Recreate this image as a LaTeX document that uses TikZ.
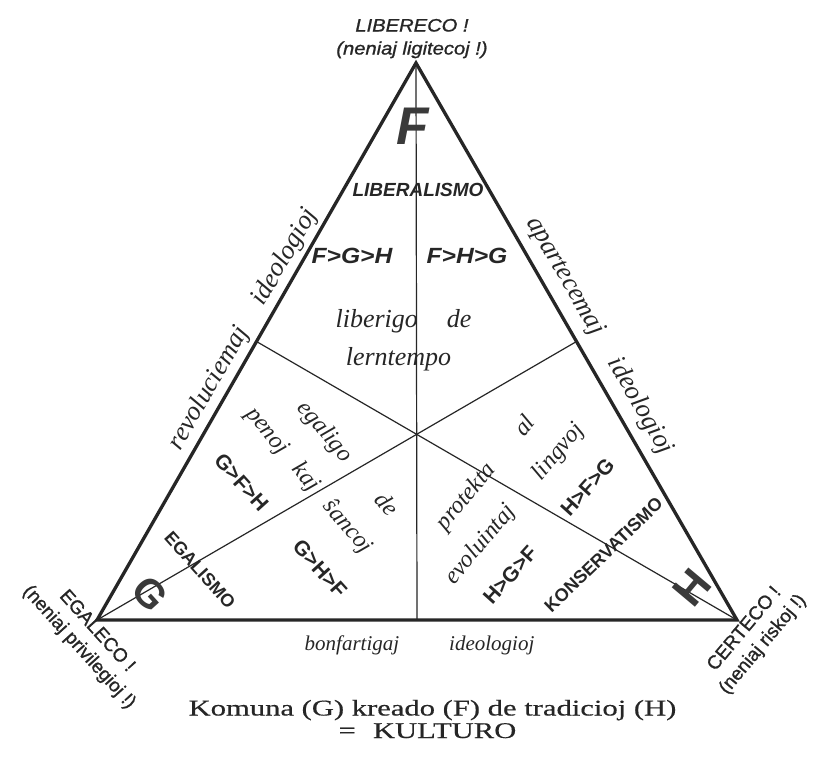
\documentclass[tikz,border=0pt]{standalone}
\usepackage{fontspec}
\setmainfont{Liberation Serif}
\newfontfamily\sff{Liberation Sans}
\newfontfamily\sffb[FakeBold=1]{Liberation Sans}
\newfontfamily\sfw[FakeStretch=1.12]{Liberation Sans}
\newfontfamily\sfwb[FakeStretch=1.12,FakeBold=1]{Liberation Sans}
\newfontfamily\capf[FakeStretch=1.36,FakeBold=0.4]{Liberation Serif}
\usetikzlibrary{calc}
\definecolor{ink}{HTML}{262626}
\definecolor{bigink}{HTML}{3a3a3a}
\newcommand{\fs}[1]{\fontsize{#1}{#1}\selectfont}
\begin{document}
\begin{tikzpicture}[x=1pt,y=-1pt,
  tri/.style={draw=ink, line width=3.3pt, line join=miter},
  med/.style={draw=ink, line width=1.2pt},
  lbl/.style={text=ink, inner sep=0pt, outer sep=0pt},
  vlab/.style={lbl, font=\sfwb\itshape\fs{18}, anchor=base},
  ism/.style={lbl, font=\sff\bfseries\fs{18}},
  ord/.style={lbl, font=\sff\bfseries\fs{21}},
  ordit/.style={lbl, font=\sfw\bfseries\itshape\fs{22}, anchor=base},
  note/.style={lbl, font=\itshape\fs{24}},
  sidetext/.style={lbl, font=\itshape\fs{26.5}, anchor=base},
  cornertext/.style={lbl, font=\sffb\fontsize{19}{24}\selectfont, align=center},
  big/.style={lbl, text=bigink, font=\sff\bfseries},
]
\fill[white] (0,0) rectangle (814,758);
\useasboundingbox (0,0) rectangle (814,758);

% vertices and midpoints
\coordinate (A) at (416,63);
\coordinate (B) at (97,620);
\coordinate (C) at (737,620);
\coordinate (mBC) at ($(B)!0.5!(C)$);
\coordinate (mAC) at ($(A)!0.5!(C)$);
\coordinate (mAB) at ($(A)!0.5!(B)$);

% medians
\draw[med] (A) -- (mBC);
\draw[med] (B) -- (mAC);
\draw[med] (C) -- (mAB);
% triangle
\draw[tri] (A) -- (B) -- (C) -- cycle;

% top vertex
\node[vlab] (lib1) at (412,31.5) {LIBERECO !};
\node[vlab] (lib2) at (412,54.5) {(neniaj ligitecoj !)};
\node[big, font=\sff\bfseries\itshape\fs{53}] (F) at (413,126) {F};
\node[lbl, font=\sff\bfseries\itshape\fs{19}, anchor=base] (liberalismo) at (418,196) {LIBERALISMO};
\node[ordit] (fgh) at (352,263) {F>G>H};
\node[ordit] (fhg) at (467,263) {F>H>G};
\node[lbl, font=\itshape\fs{26}, anchor=base] (liberigo) at (403.5,327) {liberigo\hspace{29pt}de};
\node[lbl, font=\itshape\fs{26}, anchor=base] (lerntempo) at (398.5,365) {lerntempo};

% sides
\node[sidetext, rotate=60] (revol) at (249,332.5) {revoluciemaj\hspace{29pt}ideologioj};
\node[sidetext, rotate=-60] (apart) at (594,339) {apartecemaj\hspace{30pt}ideologioj};
\node[lbl, font=\itshape\fs{21}, anchor=base] (bonf) at (419.5,650) {bonfartigaj\hspace{50pt}ideologioj};

% G region
\node[note, rotate=-50] (egal) at (347,459) {egaligo\hspace{48pt}de};
\node[note, rotate=-50] (penoj) at (308.7,481) {penoj\hspace{19pt}kaj\hspace{19pt}ŝancoj};
\node[ord, rotate=-48] (gfh) at (241.5,482.5) {G>F>H};
\node[ord, rotate=-48] (ghf) at (320,568.5) {G>H>F};
\node[ism, rotate=-48] (egalismo) at (200,570) {EGALISMO};
\node[big, font=\sff\bfseries\fs{40}, rotate=-48] (G) at (150,594) {G};

% H region
\node[note, rotate=50] (prot) at (486.4,473.5) {protekta\hspace{43pt}al};
\node[note, rotate=50] (evol) at (515,504) {evoluintaj\hspace{40pt}lingvoj};
\node[ord, rotate=48] (hgf) at (510,575) {H>G>F};
\node[ord, rotate=48] (hfg) at (587.5,487) {H>F>G};
\node[ism, rotate=44] (kons) at (603.5,555) {KONSERVATISMO};
\node[big, font=\sff\bfseries\fs{44}, rotate=50] (H) at (692,588) {H};

% corner labels
\node[cornertext, rotate=-48] (egaleco) at (87.7,639.5) {EGALECO !\\(neniaj privilegioj !)};
\node[cornertext, rotate=50] (certeco) at (754,637) {CERTECO !\\(neniaj riskoj !)};

% caption
\node[lbl, font=\capf\fs{22.5}, anchor=base] (cap1) at (432.5,715.5) {Komuna (G) kreado (F) de tradicioj (H)};
\node[lbl, font=\capf\fs{22.5}, anchor=base] (cap2) at (427.5,738) {=\hspace{17pt}KULTURO};
\end{tikzpicture}
\end{document}
